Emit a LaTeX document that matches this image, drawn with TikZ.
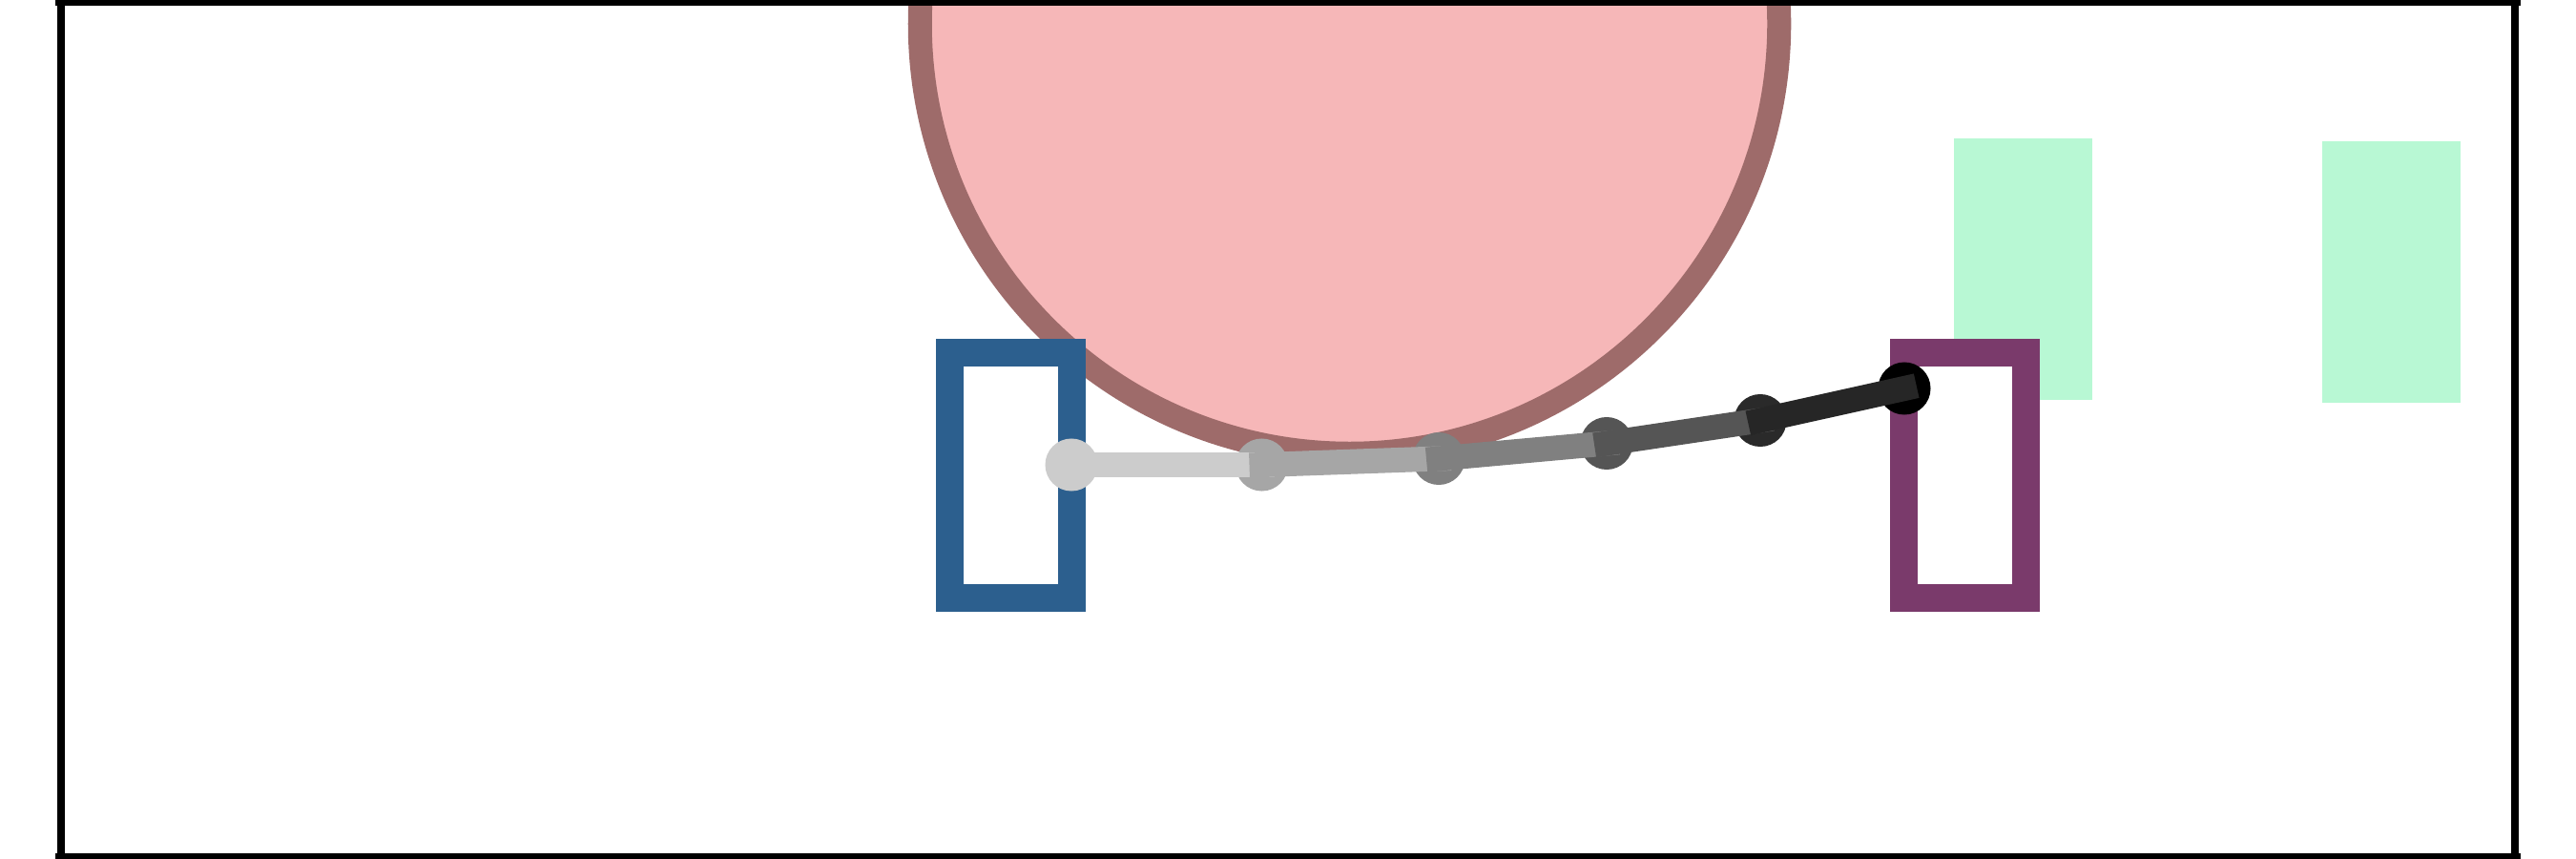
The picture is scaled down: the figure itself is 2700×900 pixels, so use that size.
\documentclass[tikz,border=0pt]{standalone}
\definecolor{pinkfill}{HTML}{F6B7B8}
\definecolor{pinkedge}{HTML}{9E6B6A}
\definecolor{holderblue}{HTML}{2C5F8E}
\definecolor{holderpurple}{HTML}{7A3A6B}
\definecolor{targetgreen}{HTML}{B8F8D4}
\definecolor{g1}{HTML}{CCCCCC}
\definecolor{g2}{HTML}{A6A6A6}
\definecolor{g3}{HTML}{808080}
\definecolor{g4}{HTML}{555555}
\definecolor{g5}{HTML}{2A2A2A}
\definecolor{g6}{HTML}{000000}
\begin{document}
\begin{tikzpicture}[x=0.01cm,y=-0.01cm,
  obstacle/.style={circle, draw=pinkedge, fill=pinkfill, line width=0.25cm, minimum size=9cm, inner sep=0pt},
  targetbox/.style={fill=targetgreen, minimum width=1.45cm, minimum height=2.74cm, inner sep=0pt},
  holder/.style={draw, fill=white, line width=0.29cm, minimum width=1.28cm, minimum height=2.57cm, inner sep=0pt},
  joint/.style={circle, inner sep=0pt, minimum size=0.55cm},
  chainlink/.style={line width=0.26cm, line cap=rect},
  frameline/.style={line width=0.08cm, black}]
\useasboundingbox (0,0) rectangle (2700,900);
\fill[white] (0,0) rectangle (2700,900);
\clip (0,0) rectangle (2700,900);
% obstacle
\node[obstacle] (obs) at (1414.5,25) {};
% targets
\node[targetbox] (t1) at (2120.5,282) {};
\node[targetbox] (t2) at (2506.5,285) {};
% holders
\node[holder, draw=holderblue] (hb) at (1059.5,498) {};
\node[holder, draw=holderpurple] (hp) at (2059.5,498) {};
% joints
\node[joint, fill=g1] (j1) at (1123,487) {};
\node[joint, fill=g2] (j2) at (1322.5,487) {};
\node[joint, fill=g3] (j3) at (1508,480.5) {};
\node[joint, fill=g4] (j4) at (1684,464.5) {};
\node[joint, fill=g5] (j5) at (1845,440.5) {};
\node[joint, fill=g6] (j6) at (1996,407) {};
% links
\draw[chainlink, g1] (j1.center) -- (j2.center);
\draw[chainlink, g2] (j2.center) -- (j3.center);
\draw[chainlink, g3] (j3.center) -- (j4.center);
\draw[chainlink, g4] (j4.center) -- (j5.center);
\draw[chainlink, g5!90!black] (j5.center) -- (j6.center);
% frame
\draw[frameline] (58,2) -- (2642,2);
\draw[frameline] (58,898) -- (2642,898);
\draw[frameline] (64,0) -- (64,900);
\draw[frameline] (2636,0) -- (2636,900);
\end{tikzpicture}
\end{document}
